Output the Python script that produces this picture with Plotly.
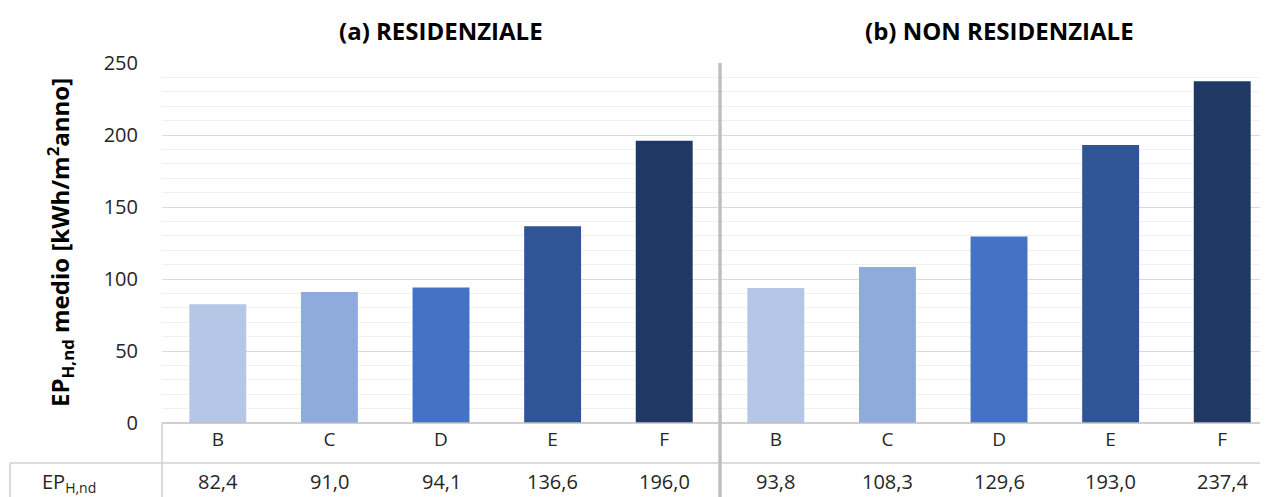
import plotly.graph_objects as go

categories = ["B", "C", "D", "E", "F"]
residenziale = [82.4, 91.0, 94.1, 136.6, 196.0]
non_residenziale = [93.8, 108.3, 129.6, 193.0, 237.4]
colors = ["#B4C7E7", "#8FAADC", "#4472C4", "#2F5597", "#203864"]
panel_titles = ["<b>(a) RESIDENZIALE</b>", "<b>(b) NON RESIDENZIALE</b>"]
y_ticks = [0, 50, 100, 150, 200, 250]

OFF = 8  # default page body margin
W, H = 1268 - OFF, 497 - OFF
# plot area in screen pixels: x 162..1268, y 63..423
L, R, T, B = 162 - OFF, 0, 63 - OFF, 497 - 423
plot_h = H - T - B
plot_w = W - L - R

def py(pix):
    return (423 - pix) / plot_h

def px(pix):
    return (pix - 162) / plot_w

xs = list(range(10))
vals = residenziale + non_residenziale
cols = colors + colors
labels = categories + categories

fig = go.Figure()
fig.add_trace(go.Bar(x=xs, y=vals, marker=dict(color=cols, line=dict(width=0)),
                     width=0.51, showlegend=False, hoverinfo="y"))

fig.update_layout(
    width=W, height=H,
    margin=dict(l=L, r=R, t=T, b=B, autoexpand=False),
    plot_bgcolor="white", paper_bgcolor="white",
    font=dict(family="Open Sans, Liberation Sans, sans-serif", color="#262626"),
    bargap=0.5,
)
fig.update_xaxes(range=[-0.5, 9.41], tickmode="array", tickvals=xs, ticktext=labels,
                 showgrid=False, zeroline=False, showline=False, ticks="", automargin=False,
                 tickfont=dict(size=19, color="#262626"), ticklabelstandoff=3)
fig.update_yaxes(range=[0, 250], tickvals=y_ticks, showgrid=True, gridcolor="#D9D9D9",
                 gridwidth=1.3, zeroline=False, showline=False, ticks="", automargin=False,
                 tickfont=dict(size=20, color="#262626"), ticklabelstandoff=23,
                 minor=dict(dtick=10, showgrid=True, gridcolor="#F0F0F0", gridwidth=1))

line_col = "#BFBFBF"
shapes = []
shapes.append(dict(type="line", xref="paper", yref="paper", x0=0, x1=1, y0=0, y1=0,
                   line=dict(color=line_col, width=1.5)))
shapes.append(dict(type="line", xref="paper", yref="paper", x0=px(10), x1=1, y0=py(463), y1=py(463),
                   line=dict(color="#D0D0D0", width=1.5)))
shapes.append(dict(type="line", xref="paper", yref="paper", x0=0, x1=0, y0=0, y1=py(500),
                   line=dict(color="#D0D0D0", width=1.5)))
shapes.append(dict(type="line", xref="paper", yref="paper", x0=px(10), x1=px(10), y0=py(463), y1=py(500),
                   line=dict(color="#D0D0D0", width=1.5)))
shapes.append(dict(type="line", xref="x", yref="paper", x0=4.5, x1=4.5, y0=1, y1=py(500),
                   line=dict(color=line_col, width=3.5)))
fig.update_layout(shapes=shapes)

annotations = []
for i, v in enumerate(vals):
    annotations.append(dict(x=xs[i], y=py(481), xref="x", yref="paper", showarrow=False,
                            xanchor="center", yanchor="middle",
                            text=f"{v:.1f}".replace(".", ","),
                            font=dict(size=20, color="#262626")))
annotations.append(dict(x=px(40), y=py(482), xref="paper", yref="paper", showarrow=False,
                        xanchor="left", yanchor="middle", text="EP<sub>H,nd</sub>",
                        font=dict(size=20, color="#262626")))
for k in range(2):
    annotations.append(dict(x=2 + 5 * k, y=py(30), xref="x", yref="paper", showarrow=False,
                            xanchor="center", yanchor="middle",
                            text=panel_titles[k],
                            font=dict(size=24, family="Open Sans, sans-serif", color="#000000")))
annotations.append(dict(x=px(60), y=py(243), xref="paper", yref="paper", showarrow=False,
                        xanchor="center", yanchor="middle", textangle=-90,
                        text="<b>EP<sub>H,nd</sub> medio [kWh/m<sup>2</sup>anno]</b>",
                        font=dict(size=24, family="Open Sans, sans-serif", color="#000000")))
fig.update_layout(annotations=annotations)

fig.write_html("out.html")
